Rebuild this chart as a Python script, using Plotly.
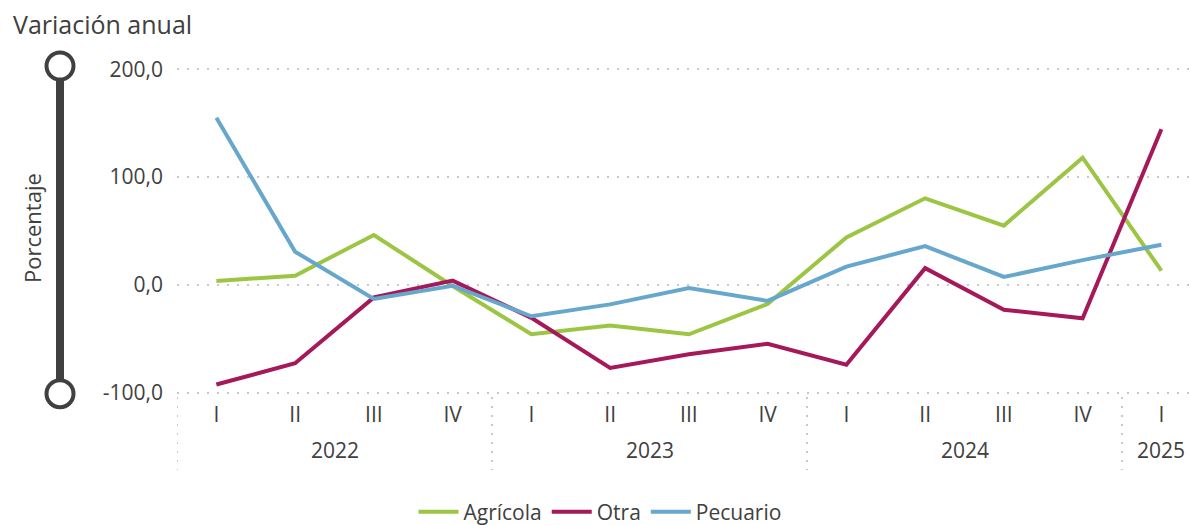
import plotly.graph_objects as go

years = ["2022"] * 4 + ["2023"] * 4 + ["2024"] * 4 + ["2025"]
quarters = ["I", "II", "III", "IV", "I", "II", "III", "IV", "I", "II", "III", "IV", "I"]

agricola = [3.7, 8.6, 46.3, -1.0, -45.7, -37.7, -45.7, -17.6, 44.0, 80.3, 55.0, 118.0, 13.2]
otra = [-92.3, -72.6, -11.5, 4.0, -30.5, -76.9, -64.2, -54.6, -74.0, 15.6, -23.0, -30.9, 144.4]
pecuario = [155.0, 30.8, -13.0, -0.7, -29.0, -18.0, -2.8, -14.8, 17.0, 36.0, 7.4, 23.0, 37.3]

y_ticks = [-100, 0, 100, 200]
y_ticktext = ["-100,0", "0,0", "100,0", "200,0"]

series = [
    ("Agrícola", agricola, "#9DC544"),
    ("Otra", otra, "#A5195B"),
    ("Pecuario", pecuario, "#67A7CC"),
]

periods = [f"{y}-{q}" for y, q in zip(years, quarters)]
year_labels = sorted(set(years))

FONT = "Segoe UI, Open Sans, sans-serif"
TXT = "#404040"

W, H = 1189, 525
L = 177
T = 67
BOT = 395
B = H - BOT
plot_w = W - L
plot_h = BOT - T
step = 78.75
x_right = -0.5 + plot_w / step


def px(sx):
    return (sx - L) / plot_w


def py(sy):
    return (BOT - sy) / plot_h


fig = go.Figure()
for name, vals, col in series:
    fig.add_trace(go.Scatter(
        x=periods, y=vals, name=name, mode="lines",
        line=dict(color=col, width=4),
    ))

shapes = []
annotations = []
for yl in year_labels:
    idx = [i for i, y in enumerate(years) if y == yl]
    shapes.append(dict(type="line", xref="x", yref="paper", x0=idx[0] - 0.5, x1=idx[0] - 0.5,
                       y0=py(397), y1=py(470),
                       line=dict(color="#C8C8C8", width=2, dash="2px,7px")))
    annotations.append(dict(text=yl, xref="x", yref="paper", x=sum(idx) / len(idx),
                            y=py(450), xanchor="center", yanchor="middle", showarrow=False,
                            font=dict(family=FONT, size=21, color=TXT)))

sx = px(60)
shapes.append(dict(type="line", xref="paper", yref="paper", x0=sx, x1=sx,
                   y0=py(66), y1=py(393.7), line=dict(color="#404040", width=8)))
for sy in (66, 393.7):
    shapes.append(dict(type="circle", xref="paper", yref="paper",
                       xsizemode="pixel", ysizemode="pixel",
                       xanchor=sx, yanchor=py(sy),
                       x0=-13.5, x1=13.5, y0=-13.5, y1=13.5,
                       fillcolor="white", line=dict(color="#404040", width=4)))

annotations.append(dict(text="Porcentaje", xref="paper", yref="paper",
                        x=px(32), y=py(228), textangle=-90, xanchor="center", yanchor="middle",
                        showarrow=False, font=dict(family=FONT, size=22, color=TXT)))

fig.update_layout(
    width=W, height=H,
    margin=dict(l=L, r=0, t=T, b=B, autoexpand=False),
    paper_bgcolor="white", plot_bgcolor="white",
    font=dict(family=FONT, color=TXT, size=21),
    title=dict(text="Variación anual", x=13 / W, xanchor="left",
               y=1 - 25 / H, yanchor="middle",
               font=dict(family=FONT, size=25, color=TXT)),
    showlegend=True,
    legend=dict(orientation="h", x=px(600), xanchor="center",
                y=py(512), yanchor="middle",
                font=dict(family=FONT, size=21, color=TXT),
                itemwidth=40, tracegroupgap=0),
    shapes=shapes,
    annotations=annotations,
)

fig.update_xaxes(type="category", range=[-0.5, x_right], showgrid=False,
                 tickvals=periods, ticktext=quarters,
                 showline=False, zeroline=False, ticks="", ticklabelstandoff=5,
                 tickfont=dict(family=FONT, size=21, color=TXT))
fig.update_yaxes(range=[-102, 202], tickvals=y_ticks, ticktext=y_ticktext,
                 showgrid=True, gridcolor="#C8C8C8", gridwidth=2, griddash="2px,8px",
                 zeroline=False, showline=False, ticks="", ticklabelstandoff=13,
                 tickfont=dict(family=FONT, size=21, color=TXT))

fig.write_html("out.html", config={"displayModeBar": False},
               post_script="document.body.style.margin='0';document.body.style.overflow='hidden';")
